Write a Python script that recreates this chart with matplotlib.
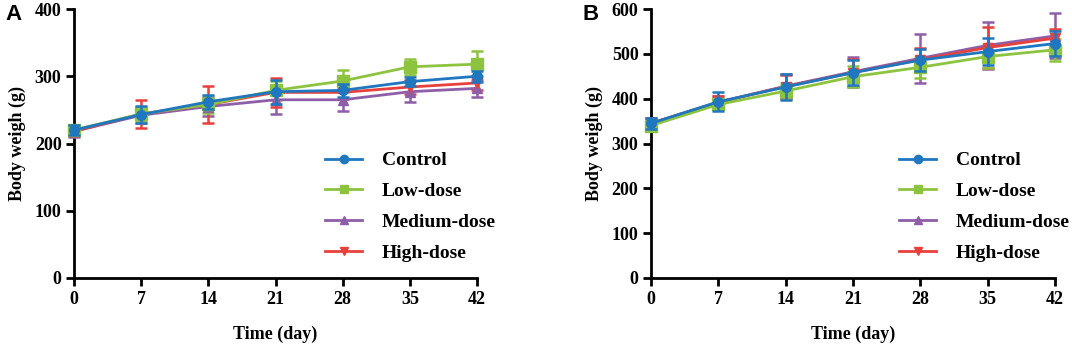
import matplotlib.pyplot as plt
from matplotlib.lines import Line2D

days = [0, 7, 14, 21, 28, 35, 42]
groups = ['Control', 'Low-dose', 'Medium-dose', 'High-dose']
colors = ['#1f77c0', '#8cc43f', '#8e5ea8', '#e8413c']
markers = ['o', 's', '^', 'v']

# panel A
a_control = [220, 243, 262, 277, 279, 292, 300]
a_low = [220, 244, 258, 279, 293, 314, 318]
a_medium = [218, 242, 255, 265, 265, 277, 282]
a_high = [218, 244, 258, 276, 276, 284, 290]
a_control_err = [8, 13, 10, 18, 10, 7, 8]
a_low_err = [8, 10, 12, 14, 17, 12, 19]
a_medium_err = [8, 12, 14, 21, 17, 16, 13]
a_high_err = [7, 21, 28, 22, 10, 10, 10]

# panel B
b_control = [345, 393, 426, 458, 486, 505, 523]
b_low = [340, 387, 417, 449, 470, 494, 509]
b_medium = [345, 392, 428, 460, 490, 519, 540]
b_high = [345, 392, 427, 458, 487, 514, 535]
b_control_err = [12, 21, 30, 28, 25, 31, 28]
b_low_err = [12, 12, 18, 24, 24, 26, 25]
b_medium_err = [12, 15, 28, 34, 54, 52, 50]
b_high_err = [12, 15, 25, 30, 26, 45, 20]

plt.rcParams['font.family'] = ['Liberation Serif', 'DejaVu Serif']
plt.rcParams['font.weight'] = 'bold'

fig = plt.figure(figsize=(10.72, 3.46), dpi=100)
ax1 = fig.add_axes([74 / 1072, 68 / 346, 403 / 1072, 269 / 346])
ax2 = fig.add_axes([651 / 1072, 68 / 346, 404 / 1072, 269 / 346])

panels = [
    (ax1, [a_control, a_low, a_medium, a_high],
     [a_control_err, a_low_err, a_medium_err, a_high_err], 400, 100, 'A', 1.09),
    (ax2, [b_control, b_low, b_medium, b_high],
     [b_control_err, b_low_err, b_medium_err, b_high_err], 600, 100, 'B', 1.08),
]

for ax, series, errs, ymax, ystep, letter, legx in panels:
    order = [2, 3, 1, 0]
    for i in order:
        ax.errorbar(days, series[i], yerr=errs[i], color=colors[i],
                    marker=markers[i], markersize=7 if i != 1 else 8,
                    linewidth=2, elinewidth=1.8, capsize=4, capthick=1.8,
                    clip_on=False, zorder=3 + (i == 0))
    handles = [Line2D([], [], color=colors[i], marker=markers[i],
                      markersize=6, linewidth=2) for i in range(4)]
    ax.legend(handles, groups, loc='lower right',
              bbox_to_anchor=(legx, -0.005), frameon=False,
              prop={'family': 'Liberation Serif', 'weight': 'bold', 'size': 14},
              handlelength=1.9, labelspacing=0.68, handletextpad=1.0)
    ax.set_xlim(0, 42)
    ax.set_ylim(0, ymax)
    ax.set_xticks(days)
    ax.set_yticks(range(0, ymax + 1, ystep))
    for s in ['top', 'right']:
        ax.spines[s].set_visible(False)
    for s in ['left', 'bottom']:
        ax.spines[s].set_linewidth(2)
    ax.tick_params(width=2, length=6, labelsize=13, pad=3)
    for lbl in ax.get_xticklabels() + ax.get_yticklabels():
        lbl.set_fontweight('bold')
    ax.set_xlabel('Time (day)', fontsize=13, fontweight='bold', labelpad=13)
    ax.set_ylabel('Body weigh (g)', fontsize=13, fontweight='bold', labelpad=6)
    ax.text(-0.17, 0.98, letter, transform=ax.transAxes, fontsize=16,
            fontweight='bold', family='Liberation Sans', va='center')

fig.savefig('out.png', dpi=100)
